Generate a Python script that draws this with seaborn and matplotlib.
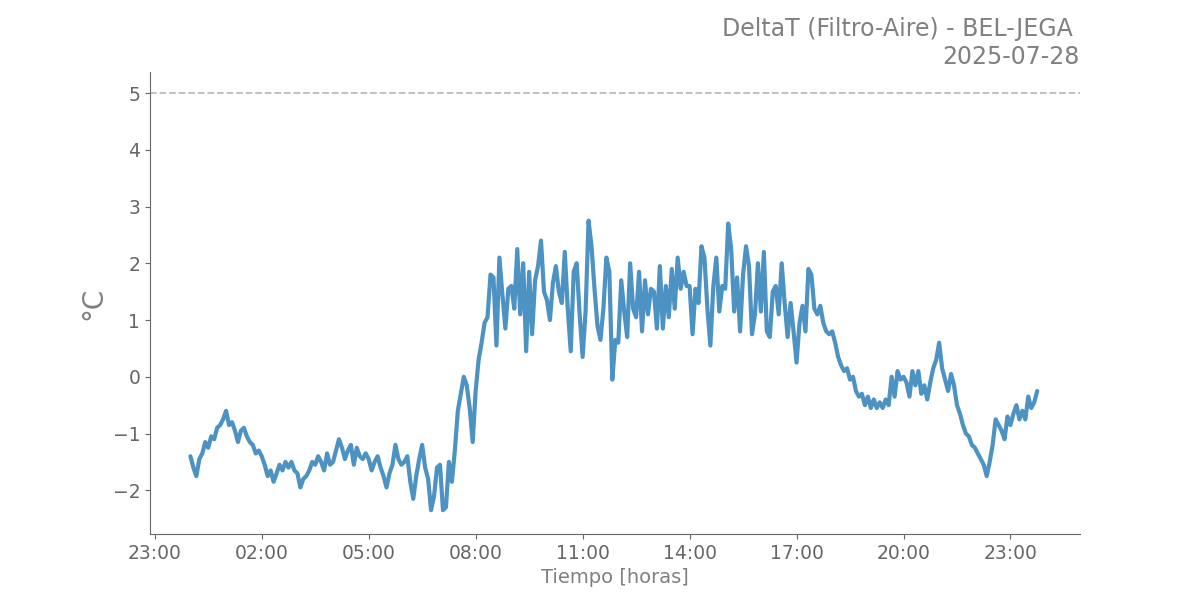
import numpy as np
import pandas as pd
import matplotlib
matplotlib.use("Agg")
import matplotlib.pyplot as plt
import matplotlib.dates as mdates
import seaborn as sns

# DeltaT readings, 5-minute steps, one row per hour (00h .. 23h)
h00 = [-1.4, -1.6, -1.75, -1.45, -1.35, -1.15, -1.25, -1.05, -1.1, -0.9, -0.85, -0.75]
h01 = [-0.6, -0.85, -0.8, -0.95, -1.15, -0.95, -0.9, -1.05, -1.15, -1.2, -1.35, -1.3]
h02 = [-1.4, -1.55, -1.75, -1.65, -1.85, -1.7, -1.55, -1.65, -1.5, -1.6, -1.5, -1.65]
h03 = [-1.7, -1.95, -1.8, -1.75, -1.65, -1.5, -1.55, -1.4, -1.5, -1.65, -1.35, -1.55]
h04 = [-1.5, -1.3, -1.1, -1.25, -1.45, -1.3, -1.2, -1.55, -1.25, -1.4, -1.45, -1.35]
h05 = [-1.45, -1.65, -1.5, -1.4, -1.6, -1.75, -1.95, -1.7, -1.55, -1.2, -1.45, -1.55]
h06 = [-1.5, -1.4, -1.85, -2.15, -1.75, -1.45, -1.2, -1.6, -1.8, -2.35, -2.1, -1.6]
h07 = [-1.55, -2.35, -2.3, -1.5, -1.85, -1.3, -0.6, -0.3, 0.0, -0.15, -0.55, -1.15]
h08 = [-0.25, 0.3, 0.6, 0.95, 1.05, 1.8, 1.75, 0.55, 2.1, 1.45, 0.85, 1.55]
h09 = [1.6, 1.2, 2.25, 1.1, 2.0, 0.45, 1.85, 0.75, 1.7, 1.95, 2.4, 1.5]
h10 = [1.35, 1.0, 1.65, 1.95, 1.5, 1.3, 2.2, 1.2, 0.45, 1.85, 2.0, 1.1]
h11 = [0.35, 1.15, 2.75, 2.3, 1.55, 0.9, 0.65, 1.2, 2.1, 1.85, -0.05, 0.65]
h12 = [0.6, 1.7, 1.15, 0.7, 2.0, 1.2, 1.05, 1.85, 0.8, 1.7, 1.1, 1.55]
h13 = [1.5, 0.85, 1.95, 0.85, 1.6, 1.05, 1.9, 1.2, 2.1, 1.55, 1.85, 1.6]
h14 = [1.6, 0.75, 1.55, 1.3, 2.3, 2.1, 1.2, 0.55, 1.6, 2.1, 1.15, 1.6]
h15 = [1.55, 2.7, 2.25, 1.15, 1.75, 0.8, 1.8, 2.3, 1.95, 0.75, 1.1, 2.0]
h16 = [1.15, 2.2, 0.8, 0.7, 1.5, 1.6, 1.1, 2.0, 1.3, 0.7, 1.3, 0.8]
h17 = [0.25, 0.95, 1.25, 0.8, 1.9, 1.8, 1.2, 1.1, 1.25, 0.95, 0.8, 0.75]
h18 = [0.8, 0.6, 0.35, 0.2, 0.1, 0.15, -0.05, 0.0, -0.25, -0.35, -0.3, -0.5]
h19 = [-0.35, -0.55, -0.4, -0.55, -0.45, -0.55, -0.4, -0.5, 0.0, -0.35, 0.1, -0.05]
h20 = [0.0, -0.1, -0.35, 0.1, -0.15, 0.1, -0.3, -0.15, -0.4, -0.1, 0.15, 0.3]
h21 = [0.6, 0.15, -0.05, -0.25, 0.05, -0.15, -0.5, -0.65, -0.85, -1.0, -1.05, -1.2]
h22 = [-1.25, -1.35, -1.45, -1.55, -1.75, -1.5, -1.2, -0.75, -0.85, -0.95, -1.1, -0.7]
h23 = [-0.85, -0.65, -0.5, -0.75, -0.6, -0.75, -0.35, -0.55, -0.45, -0.25]

limite = 5
fecha = "2025-07-28"
equipo = "BEL-JEGA"

valores = h00 + h01 + h02 + h03 + h04 + h05 + h06 + h07 + h08 + h09 + h10 + h11 \
    + h12 + h13 + h14 + h15 + h16 + h17 + h18 + h19 + h20 + h21 + h22 + h23
df = pd.DataFrame({
    "tiempo": pd.date_range(fecha + " 00:00", periods=len(valores), freq="5min"),
    "delta": valores,
})

sns.set_style("ticks")
gris = "#808080"

fig, ax = plt.subplots(figsize=(12, 6), dpi=100)
sns.lineplot(data=df, x="tiempo", y="delta", ax=ax,
             color="tab:blue", alpha=0.8, linewidth=3)
ax.axhline(limite, color="#bbbbbb", linestyle="--", linewidth=1.3)

ax.set_xlim(pd.Timestamp("2025-07-27 22:52"), pd.Timestamp("2025-07-29 00:57"))
ax.set_ylim(-2.77, 5.37)
ax.xaxis.set_major_locator(mdates.HourLocator(byhour=range(2, 24, 3)))
ax.xaxis.set_major_formatter(mdates.DateFormatter("%H:%M"))

ax.set_title(f"DeltaT (Filtro-Aire) - {equipo} \n{fecha}", loc="right",
             fontsize=17, color=gris)
ax.set_xlabel("Tiempo [horas]", fontsize=14, color=gris)
ax.set_ylabel("°C", fontsize=20, color=gris)
ax.tick_params(labelsize=13.5, colors="#666666")
for s in ["left", "bottom"]:
    ax.spines[s].set_color("#666666")
sns.despine(ax=ax)

plt.savefig("out.png")
